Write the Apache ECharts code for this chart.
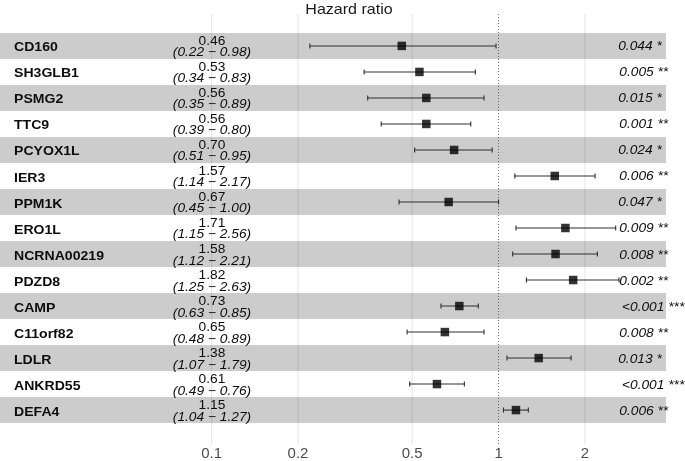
<!DOCTYPE html>
<html><head><meta charset="utf-8">
<script src="https://cdn.jsdelivr.net/npm/echarts@6/dist/echarts.min.js"></script>
<style>html,body{margin:0;padding:0;background:#fff}#c{width:685px;height:461px}</style>
</head><body><div id="c"></div>
<script>
const genes = ['CD160','SH3GLB1','PSMG2','TTC9','PCYOX1L','IER3','PPM1K','ERO1L','NCRNA00219','PDZD8','CAMP','C11orf82','LDLR','ANKRD55','DEFA4'];
const hr    = [0.46,0.53,0.56,0.56,0.70,1.57,0.67,1.71,1.58,1.82,0.73,0.65,1.38,0.61,1.15];
const lo    = [0.22,0.34,0.35,0.39,0.51,1.14,0.45,1.15,1.12,1.25,0.63,0.48,1.07,0.49,1.04];
const hi    = [0.98,0.83,0.89,0.80,0.95,2.17,1.00,2.56,2.21,2.63,0.85,0.89,1.79,0.76,1.27];
const pval  = ['0.044','0.005','0.015','0.001','0.024','0.006','0.047','0.009','0.008','0.002','<0.001','0.008','0.013','<0.001','0.006'];
const stars = ['*','**','*','**','*','**','*','**','**','**','***','**','*','***','**'];
const tickValues = [0.1,0.2,0.5,1,2];
const tickLabels = ['0.1','0.2','0.5','1','2'];

const FONT = '"Liberation Sans", Arial, Helvetica, sans-serif';
const L = Math.log10;
const SX = 1.1;
const ctx = document.createElement('canvas').getContext('2d');
ctx.font = 'italic 12.5px ' + FONT;
const tw = s => ctx.measureText(s).width * SX;

const chart = echarts.init(document.getElementById('c'), null, {renderer: 'canvas'});

const rowData = genes.map((g, i) => [L(lo[i]), L(hi[i]), i + 1]);
const pointData = genes.map((g, i) => [L(hr[i]), i + 1]);
const bandData = genes.map((g, i) => [i + 1]).filter(d => d[0] % 2 === 1);
const gridData = tickValues.map(v => [L(v)]);

const option = {
  animation: false,
  grid: {left: 0, right: 19, top: 14, bottom: 16},
  xAxis: {
    type: 'value', min: -1.7376, max: 0.5836,
    axisLine: {show: false}, axisTick: {show: false}, splitLine: {show: false},
    axisLabel: {
      customValues: tickValues.map(L),
      margin: 2, fontSize: 15, color: '#4d4d4d', fontFamily: FONT,
      formatter: v => {
        let best = 0;
        tickValues.forEach((t, k) => { if (Math.abs(L(t) - v) < Math.abs(L(tickValues[best]) - v)) best = k; });
        return tickLabels[best];
      }
    }
  },
  yAxis: {type: 'value', inverse: true, min: -0.2275, max: 16.304, show: false},
  graphic: [{
    type: 'text', x: 349, y: 9.5, scaleX: 1.07,
    style: {text: 'Hazard ratio', fontSize: 15, fontFamily: FONT, fill: '#1a1a1a', align: 'center', verticalAlign: 'middle'}
  }],
  series: [
    {
      type: 'custom', z: 1, silent: true, data: gridData,
      renderItem: (params, api) => {
        const x = api.coord([api.value(0), 0])[0];
        const cs = params.coordSys;
        const isOne = Math.abs(api.value(0)) < 1e-9;
        return {type: 'line', shape: {x1: x, y1: cs.y, x2: x, y2: cs.y + cs.height},
          style: isOne ? {stroke: '#777', lineWidth: 1, lineDash: [1, 2]} : {stroke: '#e4e4e4', lineWidth: 1}};
      }
    },
    {
      type: 'custom', z: 2, silent: true, data: bandData,
      renderItem: (params, api) => {
        const r = api.value(0);
        const cs = params.coordSys;
        const y1 = api.coord([0, r - 0.5])[1];
        const y2 = api.coord([0, r + 0.5])[1];
        return {type: 'rect', shape: {x: cs.x, y: Math.min(y1, y2), width: cs.width, height: Math.abs(y2 - y1)},
          style: {fill: 'rgba(0,0,0,0.2)'}};
      }
    },
    {
      type: 'custom', z: 3, silent: true, data: rowData,
      encode: {x: [0, 1], y: 2},
      renderItem: (params, api) => {
        const i = params.dataIndex;
        const r = api.value(2);
        const p1 = api.coord([api.value(0), r]);
        const p2 = api.coord([api.value(1), r]);
        const cy = p1[1];
        const st = {stroke: '#2e2e2e', lineWidth: 1.1};
        const ptxt = pval[i] + ' ' + stars[i];
        const w = tw(ptxt);
        return {type: 'group', children: [
          {type: 'line', shape: {x1: p1[0], y1: cy, x2: p2[0], y2: cy}, style: st},
          {type: 'line', shape: {x1: p1[0], y1: cy - 2.5, x2: p1[0], y2: cy + 2.5}, style: st},
          {type: 'line', shape: {x1: p2[0], y1: cy - 2.5, x2: p2[0], y2: cy + 2.5}, style: st},
          {type: 'text', x: 14, y: cy + 2, scaleX: SX, style: {text: genes[i], fontSize: 12.8, fontWeight: 'bold', fontFamily: FONT, fill: '#0d0d0d', align: 'left', verticalAlign: 'middle'}},
          {type: 'text', x: 212, y: cy - 4.5, scaleX: SX, style: {text: hr[i].toFixed(2), fontSize: 12.5, fontFamily: FONT, fill: '#0d0d0d', align: 'center', verticalAlign: 'middle'}},
          {type: 'text', x: 212, y: cy + 7, scaleX: SX, style: {text: '(' + lo[i].toFixed(2) + ' \u2212 ' + hi[i].toFixed(2) + ')', fontSize: 12.5, fontStyle: 'italic', fontFamily: FONT, fill: '#0d0d0d', align: 'center', verticalAlign: 'middle'}},
          {type: 'text', x: 609.5 + 0.2 * w, y: cy + 1, scaleX: SX, style: {text: ptxt, fontSize: 12.5, fontStyle: 'italic', fontFamily: FONT, fill: '#0d0d0d', align: 'left', verticalAlign: 'middle'}}
        ]};
      }
    },
    {
      type: 'scatter', z: 4, silent: true, data: pointData,
      symbol: 'rect', symbolSize: 8.5, itemStyle: {color: '#000'}
    }
  ]
};
chart.setOption(option);
</script>
</body></html>
